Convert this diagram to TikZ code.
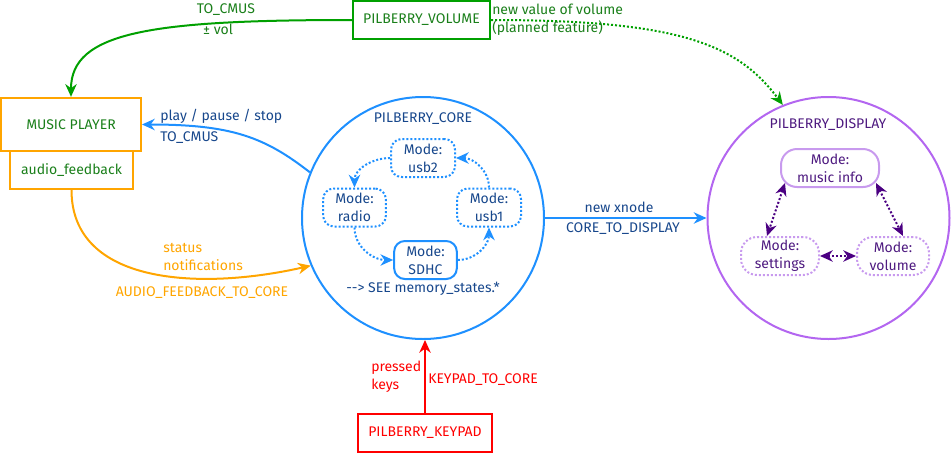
\documentclass[tikz,border=0pt]{standalone}
\usepackage{fontspec}
\setmainfont{Fira Sans}
\usetikzlibrary{arrows.meta}
\definecolor{cblue}{HTML}{1E90FF}
\definecolor{cbluetext}{HTML}{17478C}
\definecolor{cgreen}{HTML}{00A000}
\definecolor{cgreentext}{HTML}{1A7F1A}
\definecolor{corange}{HTML}{FFA500}
\definecolor{cred}{HTML}{FF0000}
\definecolor{cpurple}{HTML}{B366F0}
\definecolor{cpurplelight}{HTML}{C89AEE}
\definecolor{cpurpletext}{HTML}{4E1A80}
\definecolor{cindigo}{HTML}{4B0082}
\begin{document}
\begin{tikzpicture}[x=0.75pt,y=-0.75pt,
  font=\fontsize{10.5}{13.5}\selectfont,
  >={Stealth[length=9.5pt,width=8.5pt,inset=3pt]},
  lw/.style={line width=1.5pt},
  dots/.style={dash pattern=on 1.5pt off 1.5pt},
  sbox/.style={draw,lw,minimum height=28.5pt,inner sep=0pt,align=center},
  modebox/.style={draw,lw,rounded corners=8pt,minimum height=28.5pt,inner sep=0pt,align=center},
  bigcircle/.style={draw,lw,circle,minimum size=181.5pt,inner sep=0pt},
  lbl/.style={inner sep=0pt,align=left}
]
\useasboundingbox (0,0) rectangle (951,454);

% boxes
\node (mp) [sbox,draw=corange,text=cgreentext,minimum width=105pt,minimum height=40pt] at (71,124.5) {MUSIC PLAYER};
\node (af) [sbox,draw=corange,text=cgreentext,minimum width=92pt] at (71.5,170) {audio\_feedback};
\node (vol) [sbox,draw=cgreen,text=cgreentext,minimum width=103pt] at (421.5,20) {PILBERRY\_VOLUME};
\node (kp) [sbox,draw=cred,text=cred,minimum width=100.5pt] at (425,433) {PILBERRY\_KEYPAD};

% core
\node (core) [bigcircle,draw=cblue] at (423,218) {};
\node (coretitle) [text=cbluetext] at (423,119) {PILBERRY\_CORE};
\node (usbtwo) [modebox,draw=cblue,dots,text=cbluetext,minimum width=48pt] at (423,158) {Mode:\\usb2};
\node (radio) [modebox,draw=cblue,dots,text=cbluetext,minimum width=47pt] at (354.5,207.5) {Mode:\\radio};
\node (usbone) [modebox,draw=cblue,dots,text=cbluetext,minimum width=48pt] at (489,207.5) {Mode:\\usb1};
\node (sdhc) [modebox,draw=cblue,text=cbluetext,minimum width=47pt] at (425.5,260) {Mode:\\SDHC};
\node (see) [text=cbluetext] at (423,289) {-{}-> SEE memory\_states.*};

\draw[cblue,lw,dots,->] (usbtwo.west) to[out=180,in=90] (radio.north);
\draw[cblue,lw,dots,->] (radio.south) to[out=-90,in=180] (sdhc.west);
\draw[cblue,lw,dots,->] (sdhc.east) to[out=0,in=-90] (usbone.south);
\draw[cblue,lw,dots,->] (usbone.north) to[out=90,in=0] (usbtwo.east);

% display
\node (disp) [bigcircle,draw=cpurple] at (828.5,218) {};
\node (disptitle) [text=cpurpletext] at (828,125) {PILBERRY\_DISPLAY};
\node (mi) [modebox,draw=cpurplelight,text=cpurpletext,rounded corners=12pt,minimum width=73.5pt] at (830,168) {Mode:\\music info};
\node (set) [modebox,draw=cpurplelight,dots,text=cpurpletext,rounded corners=12pt,minimum width=58.5pt] at (780,256) {Mode:\\settings};
\node (dvol) [modebox,draw=cpurplelight,dots,text=cpurpletext,rounded corners=12pt,minimum width=54pt] at (893,256) {Mode:\\volume};

\coordinate (mia) at (785,183);
\coordinate (setb) at (767,236);
\coordinate (mic) at (876,183);
\coordinate (dvold) at (903,236);
\draw[cindigo,lw,dots,<->] (mia) -- (setb);
\draw[cindigo,lw,dots,<->] (mic) -- (dvold);
\draw[cindigo,lw,dots,<->] (set.east) -- (dvol.west);

% connectors
\draw[cgreen,lw,->] (vol.west) .. controls +(-200,0) and +(0,-65) .. (mp.north);
\node (tocmusa) [text=cgreentext] at (226,10) {TO\_CMUS};
\node (pmvol) [text=cgreentext] at (218,29) {± vol};

\draw[cgreen,lw,dots,->] (vol.east) .. controls +(190,0) and +(-45,-60) .. (disp.112);
\node (nvv) [lbl,text=cgreentext,anchor=west] at (492,19.5) {new value of volume\\(planned feature)};

\draw[cblue,lw,->] (core.158) .. controls +(-45,-35) and +(90,0) .. (mp.east);
\node (pps) [lbl,text=cbluetext,anchor=west] at (160,116) {play / pause / stop};
\node (tocmusb) [lbl,text=cbluetext,anchor=west] at (160,138) {TO\_CMUS};

\draw[corange,lw,->] (af.south) .. controls +(0,95) and +(-110,25) .. (core.203);
\node (stat) [lbl,text=corange,anchor=west] at (163,257) {status\\notifications};
\node (aftc) [lbl,text=corange] at (202,293) {AUDIO\_FEEDBACK\_TO\_CORE};

\draw[cblue,lw,->] (core.east) -- (disp.west);
\node (nx) [text=cbluetext] at (619,207) {new xnode};
\node (ctd) [text=cbluetext] at (623,229) {CORE\_TO\_DISPLAY};

\draw[cred,lw,->] (kp.north) -- (kp.north |- core.south);
\node (pk) [lbl,text=cred,anchor=west] at (371,377) {pressed\\keys};
\node (ktc) [lbl,text=cred,anchor=west] at (428,380) {KEYPAD\_TO\_CORE};
\end{tikzpicture}
\end{document}
